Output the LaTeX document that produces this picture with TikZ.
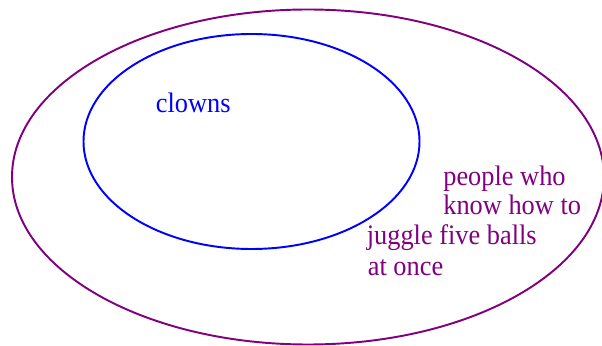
\documentclass[tikz,border=0pt]{standalone}
\usepackage{fontspec}
\setmainfont{Liberation Serif}
\usepackage{xcolor}
\definecolor{setpurple}{RGB}{128,0,128}
\definecolor{setblue}{RGB}{0,0,255}

\begin{document}
\begin{tikzpicture}[font=\fontsize{15}{17}\selectfont,line cap=round,
  lbl/.style={anchor=base west,inner sep=0pt,yscale=1.07}]
\useasboundingbox (0,0) rectangle (12.04,6.9);
\draw[setpurple,line width=1.1pt] (6.16,3.36) ellipse [x radius=5.92,y radius=3.35];
\draw[setblue,line width=1.1pt] (5.03,4.07) ellipse [x radius=3.36,y radius=2.15];
\node[lbl,text=setblue] (clowns) at (3.11,4.65) {clowns};
\node[lbl,text=setpurple] (jugA) at (8.86,3.19) {people who};
\node[lbl,text=setpurple] (jugB) at (8.86,2.61) {know how to};
\node[lbl,text=setpurple] (jugC) at (7.33,2.00) {juggle five balls};
\node[lbl,text=setpurple] (jugD) at (7.35,1.39) {at once};
\end{tikzpicture}
\end{document}
